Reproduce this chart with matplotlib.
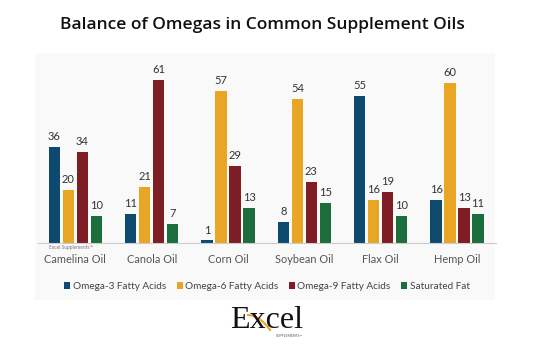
import numpy as np
import matplotlib.pyplot as plt
from matplotlib.patches import Rectangle

oils = ["Camelina Oil", "Canola Oil", "Corn Oil", "Soybean Oil", "Flax Oil", "Hemp Oil"]
omega3 = [36, 11, 1, 8, 55, 16]
omega6 = [20, 21, 57, 54, 16, 60]
omega9 = [34, 61, 29, 23, 19, 13]
saturated = [10, 7, 13, 15, 10, 11]
series_names = ["Omega-3 Fatty Acids", "Omega-6 Fatty Acids", "Omega-9 Fatty Acids", "Saturated Fat"]
colors = ["#0e4a70", "#e9a625", "#7e1d24", "#1c6f3d"]

plt.rcParams['font.family'] = ['Lato', 'DejaVu Sans']

fig = plt.figure(figsize=(5.33, 3.55), dpi=100)
fig.patch.set_facecolor("white")

# light panel behind the chart
fig.patches.append(Rectangle((35 / 533, 1 - 300 / 355), 460 / 533, 247 / 355,
                             transform=fig.transFigure, facecolor="#f9f9f9",
                             edgecolor="none", zorder=-10))

fig.text(0.492, 0.93, "Balance of Omegas in Common Supplement Oils",
         ha="center", va="center", fontsize=12.5, fontweight="semibold",
         family=['Open Sans', 'DejaVu Sans'], color="#111111")

ax = fig.add_axes([38 / 533, 1 - 243 / 355, 458 / 533, 187 / 355])
ax.set_facecolor("none")

x = np.arange(len(oils))
step = 0.183
width = 0.148
for i, (vals, c) in enumerate(zip([omega3, omega6, omega9, saturated], colors)):
    pos = x + (i - 1.5) * step
    ax.bar(pos, vals, width=width, color=c, label=series_names[i])
    for p, v in zip(pos, vals):
        ax.text(p, v + 1.8, str(v), ha="center", va="bottom", fontsize=8, color="#333333")

ax.set_xlim(-0.49, 5.51)
ax.set_ylim(0, 70)
ax.set_yticks([])
ax.set_xticks(x)
ax.set_xticklabels(oils, fontsize=7.9, color="#555555")
ax.tick_params(axis="x", length=0, pad=8)
for s in ["top", "right", "left"]:
    ax.spines[s].set_visible(False)
ax.spines["bottom"].set_color("#cccccc")
ax.spines["bottom"].set_linewidth(0.8)

fig.text(49 / 533, 1 - 248 / 355, "Excel Supplements\u2122", fontsize=3.5,
         color="#777777", ha="left", va="center")

leg = ax.legend(loc="center", bbox_to_anchor=(0.5, -0.232), ncol=4, frameon=False,
                fontsize=7.2, handlelength=0.6, handleheight=0.6, handletextpad=0.25,
                columnspacing=1.05, labelcolor="#444444")

# logo
fig.text(0.5, 1 - 320 / 355, "Excel", ha="center", va="center", fontsize=23,
         family="Liberation Serif", color="#111111")
t = np.linspace(0, 1, 30)
fig.add_artist(plt.Line2D((248 + 22 * t) / 533, 1 - (315 + 15 * t ** 2) / 355,
                          color="#e9a625", lw=1.5, transform=fig.transFigure))
fig.text(303 / 533, 1 - 336 / 355, "SUPPLEMENTS\u2122", ha="right", va="center",
         fontsize=2.5, color="#555555")

fig.savefig("out.png", dpi=100)
